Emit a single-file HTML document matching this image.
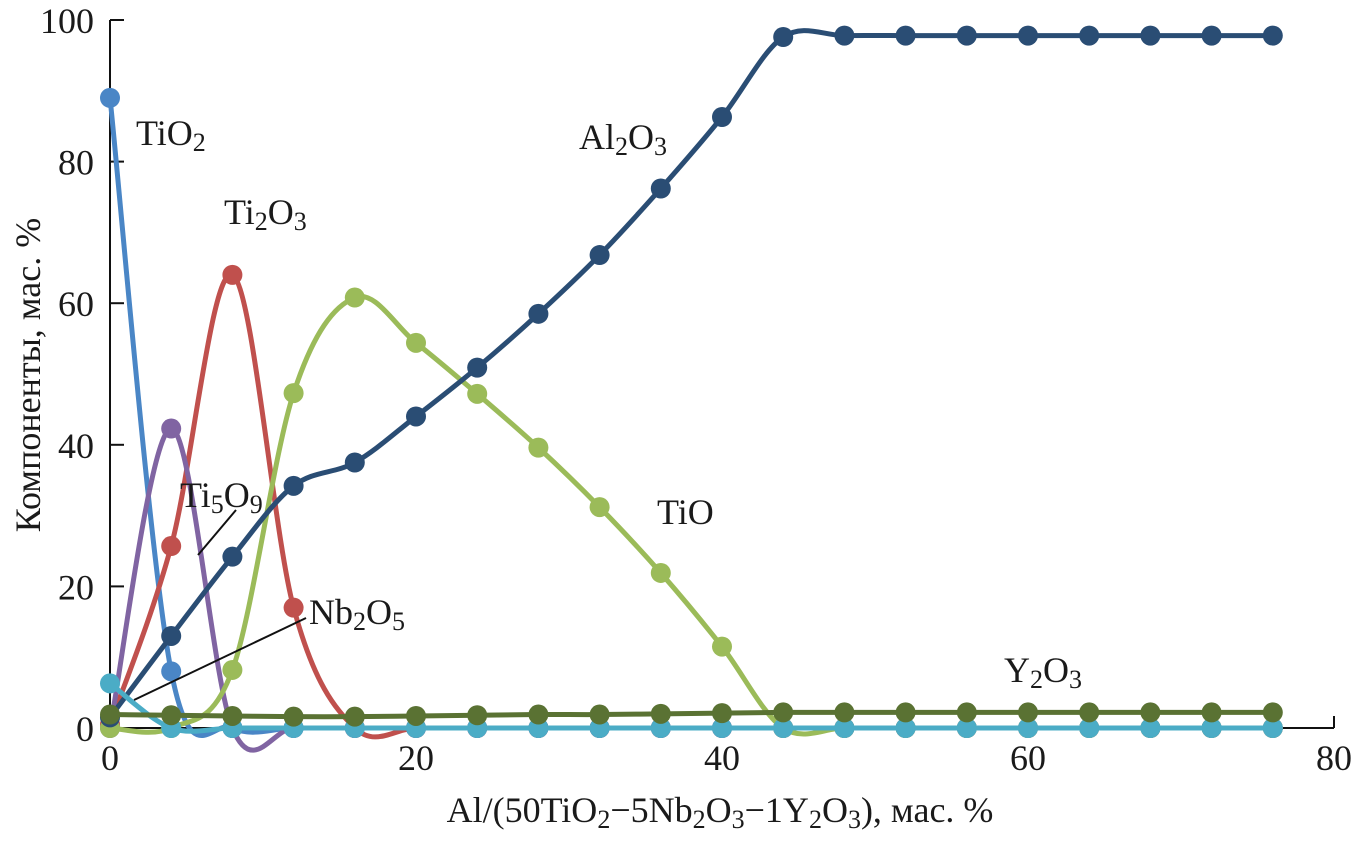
<!DOCTYPE html>
<html><head><meta charset="utf-8"><style>
body{margin:0;background:#fff}
svg text{font-family:"Liberation Serif",serif;font-size:36px;fill:#1a1a1a}
</style></head><body>
<svg id="chart" width="1351" height="842" xmlns="http://www.w3.org/2000/svg">
<g id="axes"></g>
<g id="series"></g>
<g>
<text x="136" y="145">TiO<tspan font-size="26" dy="6">2</tspan></text>
<text x="224" y="224">Ti<tspan font-size="26" dy="6">2</tspan><tspan dy="-6">O</tspan><tspan font-size="26" dy="6">3</tspan></text>
<text x="579" y="149">Al<tspan font-size="26" dy="6">2</tspan><tspan dy="-6">O</tspan><tspan font-size="26" dy="6">3</tspan></text>
<text x="180" y="507">Ti<tspan font-size="26" dy="6">5</tspan><tspan dy="-6">O</tspan><tspan font-size="26" dy="6">9</tspan></text>
<text x="309" y="624">Nb<tspan font-size="26" dy="6">2</tspan><tspan dy="-6">O</tspan><tspan font-size="26" dy="6">5</tspan></text>
<text x="657" y="524">TiO</text>
<text x="1004" y="682">Y<tspan font-size="26" dy="6">2</tspan><tspan dy="-6">O</tspan><tspan font-size="26" dy="6">3</tspan></text>
<line x1="236" y1="510" x2="198" y2="555" stroke="#111" stroke-width="2"/>
<line x1="306" y1="618" x2="134" y2="700" stroke="#111" stroke-width="2"/>
<text x="720" y="822" text-anchor="middle">Al/(50TiO<tspan font-size="26" dy="6">2</tspan><tspan dy="-6">−5Nb</tspan><tspan font-size="26" dy="6">2</tspan><tspan dy="-6">O</tspan><tspan font-size="26" dy="6">3</tspan><tspan dy="-6">−1Y</tspan><tspan font-size="26" dy="6">2</tspan><tspan dy="-6">O</tspan><tspan font-size="26" dy="6">3</tspan><tspan dy="-6">), мас. %</tspan></text>
<text transform="translate(40,375) rotate(-90)" text-anchor="middle">Компоненты, мас. %</text>
</g>
</svg>
<script>
const xs=[0,4,8,12,16,20,24,28,32,36,40,44,48,52,56,60,64,68,72,76];
const al2o3=[1.5,13,24.2,34.2,37.5,44,50.9,58.5,66.8,76.2,86.3,97.6,97.8,97.8,97.8,97.8,97.8,97.8,97.8,97.8];
const tio2=[89,8,0,0,0,0,0,0,0,0,0,0,0,0,0,0,0,0,0,0];
const ti2o3=[0.5,25.7,64,17,0,0,0,0,0,0,0,0,0,0,0,0,0,0,0,0];
const ti5o9=[0,42.3,0,0,0,0,0,0,0,0,0,0,0,0,0,0,0,0,0,0];
const tio=[0,0,8.2,47.3,60.8,54.4,47.2,39.6,31.2,21.9,11.5,0,0,0,0,0,0,0,0,0];
const nb2o5=[6.3,0,0,0,0,0,0,0,0,0,0,0,0,0,0,0,0,0,0,0];
const y2o3=[1.9,1.8,1.7,1.6,1.6,1.7,1.8,1.9,1.9,2.0,2.1,2.2,2.2,2.2,2.2,2.2,2.2,2.2,2.2,2.2];
const xTicks=[0,20,40,60,80];
const yTicks=[0,20,40,60,80,100];
const NS="http://www.w3.org/2000/svg";
const X=v=>110+v*(1334-110)/80, Y=v=>728-v*(728-20)/100;
const axes=document.getElementById('axes'), ser=document.getElementById('series');
function mk(tag,attrs,parent){const e=document.createElementNS(NS,tag);for(const k in attrs)e.setAttribute(k,attrs[k]);parent.appendChild(e);return e;}
let e=mk('line',{x1:X(0),y1:Y(0),x2:X(80),y2:Y(0),stroke:'#111','stroke-width':2},axes);


e=mk('line',{x1:X(0),y1:Y(0),x2:X(0),y2:Y(100),stroke:'#111','stroke-width':2},axes);


yTicks.forEach(t=>{
 e=mk('line',{x1:X(0),y1:Y(t),x2:X(0)+14,y2:Y(t),stroke:'#111','stroke-width':2},axes);
 
 
 e=mk('text',{x:X(0)-16,y:Y(t)+13,'text-anchor':'end'},axes);e.textContent=t;
 
 
});
xTicks.forEach(t=>{
 e=mk('line',{x1:X(t),y1:Y(0),x2:X(t),y2:Y(0)-12,stroke:'#111','stroke-width':2},axes);
 
 
 e=mk('text',{x:X(t),y:Y(0)+42,'text-anchor':'middle'},axes);e.textContent=t;
 
 
});
function path(vals){const p=vals.map((v,i)=>[X(xs[i]),Y(v)]);let d='M'+p[0][0]+','+p[0][1];
 for(let i=0;i<p.length-1;i++){const p0=p[i-1]||p[i],p1=p[i],p2=p[i+1],p3=p[i+2]||p2;
  const c1=[p1[0]+(p2[0]-p0[0])/6,p1[1]+(p2[1]-p0[1])/6],c2=[p2[0]-(p3[0]-p1[0])/6,p2[1]-(p3[1]-p1[1])/6];
  d+=`C${c1[0]},${c1[1]} ${c2[0]},${c2[1]} ${p2[0]},${p2[1]}`;}
 return d;}
function draw(name,vals,color){
 const g=mk('g',{},ser);
 
 
 const l=mk('path',{d:path(vals),fill:'none',stroke:color,'stroke-width':5},g);
 
 
 vals.forEach((v,i)=>{const c=mk('circle',{cx:X(xs[i]),cy:Y(v),r:10,fill:color},g);
  
  });
}
draw('tio2',tio2,'#4a86c6');
draw('ti2o3',ti2o3,'#c0504d');
draw('ti5o9',ti5o9,'#8064a2');
draw('tio',tio,'#9bbb59');
draw('al2o3',al2o3,'#2a4d74');
draw('nb2o5',nb2o5,'#4bacc6');
draw('y2o3',y2o3,'#5a7233');
</script>
</body></html>
